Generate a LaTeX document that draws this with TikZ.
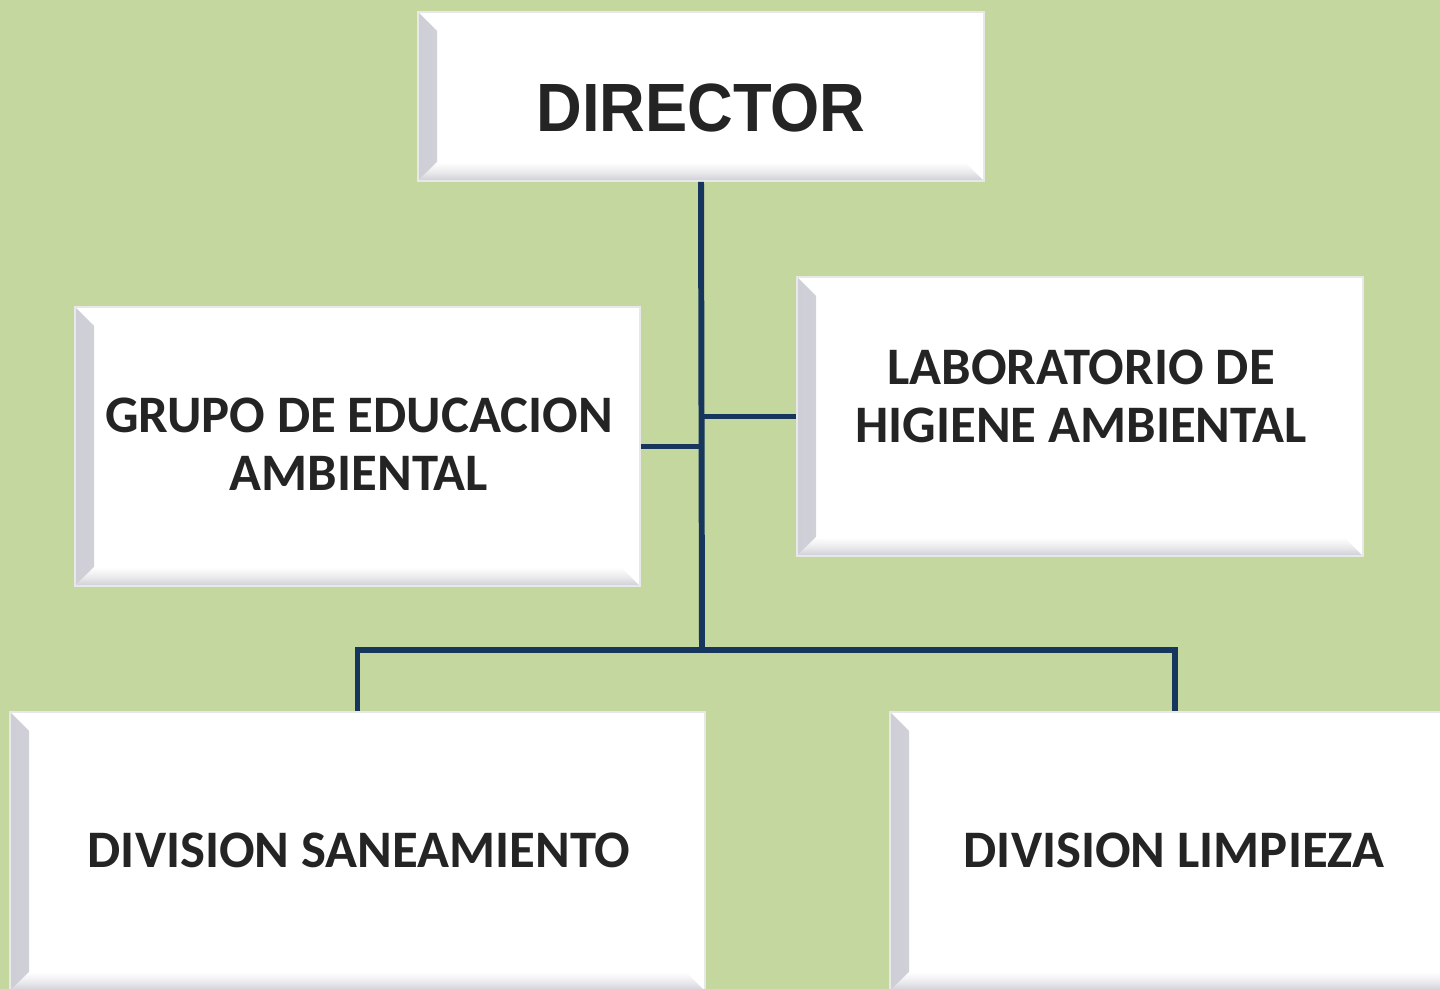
\documentclass[tikz,border=0pt]{standalone}
\usepackage{fontspec}
\setmainfont{Carlito}
\newfontfamily\headfont{Liberation Sans}
\definecolor{bggreen}{RGB}{196,215,159}
\definecolor{navy}{RGB}{23,54,93}
\definecolor{bevelgray}{RGB}{206,206,214}
\definecolor{inkgray}{RGB}{36,36,36}

\begin{document}
\begin{tikzpicture}[x=0.02cm,y=-0.02cm,
  orgbox/.style={draw=black!9, line width=0.9pt, fill=white, inner sep=0pt,
    path picture={
      \shade[left color=bevelgray, right color=white, middle color=bevelgray!40]
        (path picture bounding box.south west) -- (path picture bounding box.north west)
        -- ++(0.38cm,-0.38cm) -- ([shift={(0.38cm,0.38cm)}]path picture bounding box.south west) -- cycle;
      \shade[top color=white, bottom color=bevelgray, middle color=bevelgray!40]
        (path picture bounding box.south west) -- ([shift={(0.38cm,0.38cm)}]path picture bounding box.south west)
        -- ([shift={(-0.38cm,0.38cm)}]path picture bounding box.south east) -- (path picture bounding box.south east) -- cycle;
    }},
  boxtext/.style={text=inkgray, align=center, font=\bfseries\fontsize{30}{33}\selectfont},
  link/.style={draw=navy, line width=3.4pt}
]
\useasboundingbox[fill=bggreen] (0,0) rectangle (1440,989);

\node[orgbox, minimum width=11.32cm, minimum height=3.38cm] (director) at (701,96.5) {};
\node[orgbox, minimum width=11.30cm, minimum height=5.58cm] (grupo) at (357.5,446.5) {};
\node[orgbox, minimum width=11.32cm, minimum height=5.58cm] (lab) at (1080,416.5) {};
\node[orgbox, minimum width=13.90cm, minimum height=5.58cm] (san) at (357.5,851.5) {};
\node[orgbox, minimum width=11.40cm, minimum height=5.58cm] (lim) at (1175,851.5) {};

\node[text=inkgray, font=\headfont\bfseries\fontsize{36}{40}\selectfont, yscale=1.08] (director-txt) at (701,108) {DIRECTOR};
\node[boxtext] (grupo-txt) at (359,444) {GRUPO DE EDUCACION\\AMBIENTAL};
\node[boxtext] (lab-txt) at (1081,396) {LABORATORIO DE\\HIGIENE AMBIENTAL};
\node[boxtext] (san-txt) at (359,850) {DIVISION SANEAMIENTO};
\node[boxtext] (lim-txt) at (1174,850) {DIVISION LIMPIEZA};

\coordinate (bus) at (702,650);
\draw[link] (director.south) -- (bus);
\draw[link] (lab.west) -- (lab.west -| director.south);
\draw[link] (grupo.east) -- (grupo.east -| director.south);
\draw[link] (san.north) |- (bus) -| (lim.north);
\end{tikzpicture}
\end{document}
